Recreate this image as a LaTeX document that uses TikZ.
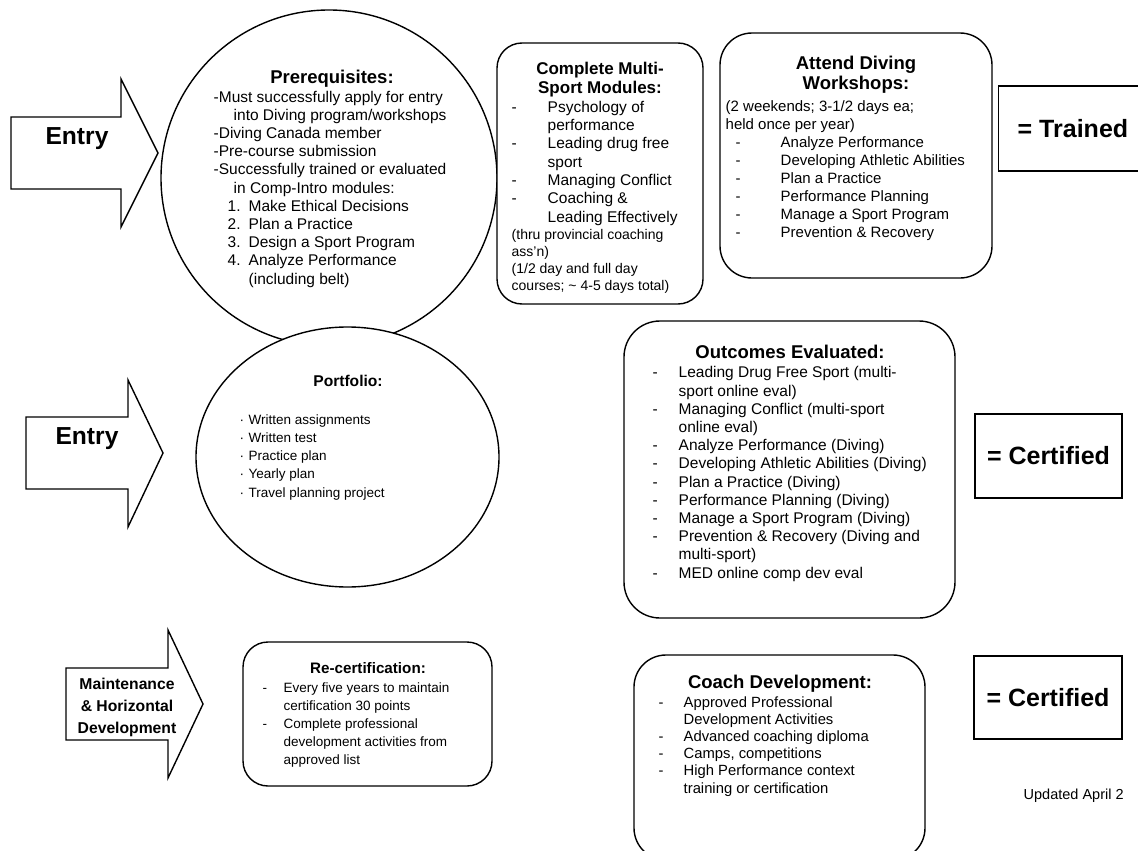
\documentclass[tikz,border=0pt]{standalone}
\usepackage{fontspec}
\setmainfont{Liberation Sans}
\usetikzlibrary{shapes.geometric}
\newcommand{\fs}[2]{\fontsize{#1}{#2}\selectfont}
\newcommand{\dl}[2]{\makebox[#1][l]{#2}}
\begin{document}
\begin{tikzpicture}[x=1pt,y=-1pt, line width=1.4pt,
  txt/.style={inner sep=0pt, align=left, anchor=base west},
  ttl/.style={inner sep=0pt, align=center, anchor=base},
  rbox/.style={draw, rectangle, fill=white, inner sep=0pt},
  blk/.style={draw, fill=white, line join=miter}]
\useasboundingbox (0,0) rectangle (1138,851);
\clip (0,0) rectangle (1138,851);
% note: for multi-line nodes the base anchor is the baseline of the LAST line

% ---------- arrows ----------
\draw[blk] (11,117) -- (121,117) -- (121,79) -- (158,153) -- (121,227) -- (121,189) -- (11,189) -- cycle;
\node[txt, font=\fs{24.6}{28}\bfseries, anchor=base] (entry1) at (77,144) {Entry};

\draw[blk] (26,417) -- (128,417) -- (128,380) -- (163,453) -- (128,527) -- (128,489) -- (26,489) -- cycle;
\node[txt, font=\fs{24.6}{28}\bfseries, anchor=base] (entry2) at (87,444) {Entry};

\draw[blk] (66,668) -- (168,668) -- (168,630) -- (203,704) -- (168,778) -- (168,740) -- (66,740) -- cycle;
\node[ttl, font=\fs{15.7}{22}\bfseries] (maint) at (127,733) {Maintenance\\\& Horizontal\\Development};

% ---------- prerequisites circle ----------
\node[draw, circle, minimum size=336, inner sep=0pt] (prereq) at (329,178) {};
\node[ttl, font=\fs{18.5}{22}\bfseries] (prereqt) at (332,83.5) {Prerequisites:};
\node[txt, font=\fs{15.5}{18.2}] (prereqb) at (213,284) {-Must successfully apply for entry\\
\hspace*{20pt}into Diving program/workshops\\
-Diving Canada member\\
-Pre-course submission\\
-Successfully trained or evaluated\\
\hspace*{20pt}in Comp-Intro modules:\\
\hspace*{14pt}\dl{21pt}{1.}Make Ethical Decisions\\
\hspace*{14pt}\dl{21pt}{2.}Plan a Practice\\
\hspace*{14pt}\dl{21pt}{3.}Design a Sport Program\\
\hspace*{14pt}\dl{21pt}{4.}Analyze Performance\\
\hspace*{35pt}(including belt)};

% ---------- portfolio ellipse ----------
\node[draw, ellipse, fill=white, minimum width=303, minimum height=260, inner sep=0pt] (portfolio) at (347.5,457) {};
\node[ttl, font=\fs{15.6}{18}\bfseries] (portt) at (348,386.5) {Portfolio:};
\node[txt, font=\fs{13.5}{18.2}] (portb) at (239,497) {\dl{9pt}{·}Written assignments\\
\dl{9pt}{·}Written test\\
\dl{9pt}{·}Practice plan\\
\dl{9pt}{·}Yearly plan\\
\dl{9pt}{·}Travel planning project};

% ---------- multi-sport ----------
\node[rbox, rounded corners=25pt, minimum width=206, minimum height=261] (multi) at (600,173.5) {};
\node[ttl, font=\fs{17}{19}\bfseries] (multit) at (600,93) {Complete Multi-\\Sport Modules:};
\node[txt, font=\fs{15.5}{18.33}] (multib) at (511,222) {\dl{36pt}{-}Psychology of\\
\hspace*{36pt}performance\\
\dl{36pt}{-}Leading drug free\\
\hspace*{36pt}sport\\
\dl{36pt}{-}Managing Conflict\\
\dl{36pt}{-}Coaching \&\\
\hspace*{36pt}Leading Effectively};
\node[txt, font=\fs{14}{17}] (multis) at (511,290) {(thru provincial coaching\\ass'n)\\(1/2 day and full day\\courses; \textasciitilde{} 4-5 days total)};

% ---------- attend diving ----------
\node[rbox, rounded corners=32pt, minimum width=272, minimum height=245] (attend) at (856,155.5) {};
\node[ttl, font=\fs{18.5}{19.5}\bfseries] (attendt) at (856,89) {Attend Diving\\Workshops:};
\node[txt, font=\fs{15}{18}] (attendb) at (725,237) {(2 weekends; 3-1/2 days ea;\\
held once per year)\\
\dl{55pt}{\hspace*{10pt}-}Analyze Performance\\
\dl{55pt}{\hspace*{10pt}-}Developing Athletic Abilities\\
\dl{55pt}{\hspace*{10pt}-}Plan a Practice\\
\dl{55pt}{\hspace*{10pt}-}Performance Planning\\
\dl{55pt}{\hspace*{10pt}-}Manage a Sport Program\\
\dl{55pt}{\hspace*{10pt}-}Prevention \& Recovery};

% ---------- trained ----------
\node[rbox, minimum width=170, minimum height=85, anchor=west] (trained) at (998,128.5) {};
\node[txt, font=\fs{25}{28}\bfseries, anchor=west] (trainedt) at (1017,128.5) {= Trained};

% ---------- outcomes ----------
\node[rbox, rounded corners=36pt, minimum width=331, minimum height=297] (outcomes) at (789.5,469.5) {};
\node[ttl, font=\fs{18.5}{22}\bfseries] (outt) at (790,358.5) {Outcomes Evaluated:};
\node[txt, font=\fs{15.5}{18.2}] (outb) at (652,578) {\dl{26pt}{-}Leading Drug Free Sport (multi-\\
\hspace*{26pt}sport online eval)\\
\dl{26pt}{-}Managing Conflict (multi-sport\\
\hspace*{26pt}online eval)\\
\dl{26pt}{-}Analyze Performance (Diving)\\
\dl{26pt}{-}Developing Athletic Abilities (Diving)\\
\dl{26pt}{-}Plan a Practice (Diving)\\
\dl{26pt}{-}Performance Planning (Diving)\\
\dl{26pt}{-}Manage a Sport Program (Diving)\\
\dl{26pt}{-}Prevention \& Recovery (Diving and\\
\hspace*{26pt}multi-sport)\\
\dl{26pt}{-}MED online comp dev eval};

\node[rbox, minimum width=147, minimum height=84, font=\fs{25}{28}\bfseries] (cert1) at (1048.5,456) {= Certified};

% ---------- recertification ----------
\node[rbox, rounded corners=25pt, minimum width=249, minimum height=144] (recert) at (367.5,714) {};
\node[ttl, font=\fs{15.2}{18}\bfseries] (recertt) at (368,673) {Re-certification:};
\node[txt, font=\fs{13.5}{18}] (recertb) at (262,764) {\dl{21pt}{-}Every five years to maintain\\
\hspace*{21pt}certification 30 points\\
\dl{21pt}{-}Complete professional\\
\hspace*{21pt}development activities from\\
\hspace*{21pt}approved list};

% ---------- coach development ----------
\node[rbox, rounded corners=32pt, minimum width=291, minimum height=205] (coach) at (779.5,757.5) {};
\node[ttl, font=\fs{18.5}{22}\bfseries] (coacht) at (780,688) {Coach Development:};
\node[txt, font=\fs{14.8}{17.2}] (coachb) at (658,793) {\dl{25pt}{-}Approved Professional\\
\hspace*{25pt}Development Activities\\
\dl{25pt}{-}Advanced coaching diploma\\
\dl{25pt}{-}Camps, competitions\\
\dl{25pt}{-}High Performance context\\
\hspace*{25pt}training or certification};

\node[rbox, minimum width=148, minimum height=83, font=\fs{25}{28}\bfseries] (cert2) at (1048,697.5) {= Certified};

\node[txt, font=\fs{14.5}{17}] (updated) at (1023,799) {Updated April 2};
\end{tikzpicture}
\end{document}
